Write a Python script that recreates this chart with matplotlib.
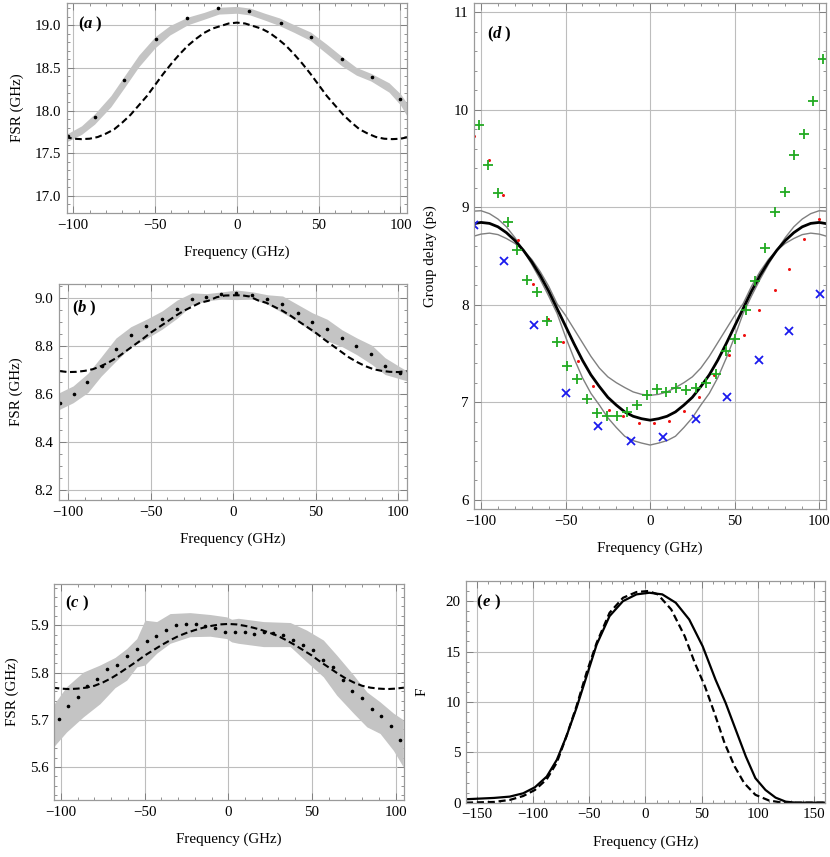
import numpy as np
import matplotlib
matplotlib.use("Agg")
import matplotlib.pyplot as plt
from matplotlib.ticker import MultipleLocator

plt.rcParams["font.family"] = ["Liberation Serif", "DejaVu Serif"]
plt.rcParams["font.size"] = 10.8
plt.rcParams["axes.formatter.useoffset"] = False

# ---------------- (a) ----------------
A_DASH_X = np.arange(-105, 106, 5)
A_DASH_Y = [17.69, 17.67, 17.665, 17.67, 17.69, 17.73, 17.78, 17.86, 17.95, 18.06, 18.17,
            18.30, 18.43, 18.55, 18.66, 18.76, 18.84, 18.91, 18.96, 18.99, 19.02, 19.03,
            19.02, 18.99, 18.96, 18.91, 18.84, 18.76, 18.66, 18.55, 18.43, 18.30, 18.17,
            18.06, 17.95, 17.86, 17.78, 17.73, 17.69, 17.67, 17.665, 17.67, 17.69]
A_BAND_X = [-104, -95, -87, -77, -69, -60, -50, -41, -30, -20, -11, 0, 8, 17, 26, 35,
            45, 55, 64, 73, 82, 93, 100, 104]
A_BAND_MID = [17.68, 17.77, 17.90, 18.11, 18.33, 18.58, 18.80, 18.94, 19.05, 19.11, 19.17,
              19.18, 19.16, 19.10, 19.04, 18.96, 18.87, 18.72, 18.58, 18.46, 18.39, 18.27,
              18.13, 18.01]
A_BAND_HALF = [0.045, 0.05, 0.06, 0.065, 0.068, 0.068, 0.065, 0.055, 0.045, 0.04, 0.04,
               0.04, 0.04, 0.04, 0.045, 0.045, 0.05, 0.055, 0.055, 0.045, 0.045, 0.055,
               0.065, 0.075]
A_DOT_X = [-103.5, -86.8, -68.7, -49.6, -30.5, -11.4, 7.7, 26.8, 45.3, 64.0, 82.3, 99.6]
A_DOT_Y = [17.70, 17.925, 18.36, 18.844, 19.08, 19.196, 19.169, 19.03, 18.867, 18.605,
           18.398, 18.14]

# ---------------- (b) ----------------
B_DASH_X = np.arange(-105, 106, 5)
B_DASH_Y = [8.697, 8.693, 8.694, 8.698, 8.705, 8.718, 8.735, 8.755, 8.78, 8.805, 8.83,
            8.857, 8.88, 8.903, 8.927, 8.948, 8.965, 8.982, 8.99, 9.005, 9.012, 9.013,
            9.013, 9.008, 8.992, 8.982, 8.965, 8.948, 8.927, 8.903, 8.88, 8.857, 8.83,
            8.805, 8.78, 8.755, 8.735, 8.718, 8.705, 8.698, 8.694, 8.693, 8.697]
B_BAND_X = [-106, -97, -88, -80, -71, -62, -52, -43, -34, -25, -16, -7, 2, 12, 21, 30,
            39, 48, 57, 66, 75, 84, 92, 101, 106]
B_BAND_MID = [8.57, 8.60, 8.648, 8.716, 8.787, 8.84, 8.875, 8.91, 8.955, 8.998, 9.005,
              9.012, 9.015, 9.012, 8.995, 8.975, 8.94, 8.90, 8.868, 8.834, 8.80, 8.765,
              8.718, 8.69, 8.675]
B_BAND_HALF = [0.035, 0.035, 0.04, 0.04, 0.048, 0.042, 0.04, 0.038, 0.038, 0.025, 0.015,
               0.015, 0.02, 0.015, 0.02, 0.035, 0.035, 0.04, 0.045, 0.035, 0.035, 0.04,
               0.035, 0.025, 0.02]
B_DOT_X = [-105, -96.7, -88.3, -79.7, -70.7, -61.6, -52.5, -43.4, -34.3, -25.2, -16.2,
           -7.1, 2.0, 11.7, 20.8, 29.9, 39.0, 47.5, 56.6, 65.7, 74.7, 83.8, 92.3, 101.0]
B_DOT_Y = [8.566, 8.60, 8.653, 8.72, 8.789, 8.847, 8.885, 8.915, 8.957, 8.997, 9.007,
           9.018, 9.021, 9.014, 8.998, 8.976, 8.94, 8.903, 8.872, 8.834, 8.802, 8.768,
           8.718, 8.69]

# ---------------- (c) ----------------
C_DASH_X = np.arange(-105, 106, 5)
C_DASH_Y = [5.768, 5.766, 5.765, 5.766, 5.768, 5.772, 5.779, 5.788, 5.799, 5.811, 5.823,
            5.836, 5.847, 5.858, 5.868, 5.877, 5.884, 5.89, 5.895, 5.899, 5.902, 5.903,
            5.902, 5.899, 5.895, 5.89, 5.884, 5.877, 5.868, 5.858, 5.847, 5.836, 5.823,
            5.811, 5.799, 5.788, 5.779, 5.772, 5.768, 5.766, 5.765, 5.766, 5.768]
C_BAND_X = [-104.6, -96.7, -86.7, -76.7, -67.7, -60.7, -54.7, -49.8, -42.8, -34.8, -22.9,
            -10.9, -1, 2, 6, 21, 37, 46.8, 56.8, 64.8, 74.8, 82.8, 90.7, 98.7, 104.6]
C_BAND_UP = [5.731, 5.77, 5.801, 5.816, 5.832, 5.851, 5.872, 5.911, 5.908, 5.925, 5.927,
             5.923, 5.918, 5.913, 5.915, 5.908, 5.906, 5.89, 5.869, 5.837, 5.795, 5.759,
             5.738, 5.714, 5.70]
C_BAND_LO = [5.642, 5.674, 5.706, 5.734, 5.768, 5.784, 5.812, 5.816, 5.841, 5.862, 5.876,
             5.877, 5.872, 5.865, 5.862, 5.855, 5.855, 5.823, 5.791, 5.752, 5.714, 5.685,
             5.671, 5.635, 5.60]
C_DOT_X = [-101, -95.6, -90, -84.2, -78.3, -72.7, -66.7, -60.7, -54.7, -48.8, -43.2,
           -37.2, -31.3, -25.3, -19.5, -13.8, -8, -2, 4, 10, 15.5, 21.5, 27, 32.9, 38.9,
           44.8, 50.8, 56.8, 62.8, 68.4, 74.2, 79.7, 85.7, 91.1, 97.1, 102.6]
C_DOT_Y = [5.701, 5.729, 5.748, 5.772, 5.787, 5.807, 5.816, 5.835, 5.849, 5.867, 5.877,
           5.89, 5.90, 5.903, 5.903, 5.899, 5.894, 5.886, 5.885, 5.885, 5.882, 5.886,
           5.883, 5.879, 5.87, 5.858, 5.847, 5.826, 5.812, 5.785, 5.76, 5.747, 5.722,
           5.707, 5.686, 5.658]

# ---------------- (d) ----------------
D_PLUS_X = [-101.2, -95.6, -90.1, -84.2, -78.5, -72.7, -67.1, -61.1, -55.2, -49.3, -43.4,
            -37.5, -31.5, -25.6, -19.7, -13.8, -7.9, -2.0, 4.0, 9.5, 15.4, 21.3, 27.2,
            33.1, 39.1, 44.6, 50.3, 56.6, 62.1, 68.0, 73.8, 79.5, 85.2, 90.9, 96.4, 102.2]
D_PLUS_Y = [9.848, 9.438, 9.148, 8.846, 8.559, 8.255, 8.132, 7.831, 7.619, 7.376, 7.233,
            7.035, 6.891, 6.856, 6.856, 6.897, 6.969, 7.069, 7.13, 7.107, 7.148, 7.123,
            7.148, 7.199, 7.294, 7.523, 7.65, 7.95, 8.245, 8.584, 8.953, 9.154, 9.541,
            9.756, 10.094, 10.525]
D_DOT_X = [-103.9, -95.2, -86.8, -78.3, -69.0, -60.4, -51.3, -42.4, -33.5, -24.6, -15.8,
           -6.7, 2.4, 11.4, 20.1, 29.2, 38.0, 46.9, 55.8, 64.7, 73.6, 82.2, 90.9, 99.8]
D_DOT_Y = [9.735, 9.482, 9.13, 8.669, 8.218, 7.858, 7.622, 7.42, 7.164, 6.918, 6.853,
           6.782, 6.789, 6.809, 6.905, 7.056, 7.274, 7.489, 7.694, 7.944, 8.152, 8.368,
           8.679, 8.884]
D_CROSS_X = [-103.9, -86.4, -68.4, -49.7, -30.6, -11.2, 7.9, 27.0, 45.7, 64.3, 82.4, 100.6]
D_CROSS_Y = [8.82, 8.453, 7.79, 7.092, 6.754, 6.604, 6.645, 6.83, 7.056, 7.435, 7.735, 8.115]
D_FIT_X = np.arange(-105, 106, 5)
D_FIT = [8.83, 8.845, 8.835, 8.80, 8.74, 8.66, 8.56, 8.44, 8.30, 8.14, 7.96, 7.78, 7.60,
         7.43, 7.28, 7.16, 7.05, 6.97, 6.90, 6.855, 6.83, 6.815, 6.83, 6.855, 6.90, 6.97,
         7.05, 7.16, 7.28, 7.43, 7.60, 7.78, 7.96, 8.14, 8.30, 8.44, 8.56, 8.66, 8.74,
         8.80, 8.835, 8.845, 8.83]
D_FIT_HI = [8.70, 8.725, 8.735, 8.72, 8.68, 8.63, 8.56, 8.465, 8.34, 8.19, 8.01, 7.89,
            7.75, 7.61, 7.47, 7.35, 7.26, 7.20, 7.15, 7.105, 7.08, 7.07, 7.08, 7.105, 7.15,
            7.20, 7.26, 7.35, 7.47, 7.61, 7.75, 7.89, 8.01, 8.19, 8.34, 8.465, 8.56, 8.63,
            8.68, 8.72, 8.735, 8.725, 8.70]
D_FIT_LO = [8.96, 8.965, 8.935, 8.88, 8.80, 8.69, 8.56, 8.415, 8.26, 8.09, 7.91, 7.67,
            7.45, 7.25, 7.09, 6.97, 6.84, 6.74, 6.65, 6.605, 6.58, 6.56, 6.58, 6.605, 6.65,
            6.74, 6.84, 6.97, 7.09, 7.25, 7.45, 7.67, 7.91, 8.09, 8.26, 8.415, 8.56, 8.69,
            8.80, 8.88, 8.935, 8.965, 8.96]

# ---------------- (e) ----------------
E_SOLID_X = [-160, -135, -121, -109, -98.5, -88, -79, -70.5, -61.5, -52.5, -43.5, -32,
             -20, -8, 3.5, 15, 27, 39, 51, 62.5, 71.5, 80.5, 89.5, 98, 107, 116, 125,
             134, 160]
E_SOLID_Y = [0.34, 0.47, 0.6, 0.93, 1.53, 2.59, 4.25, 6.57, 9.39, 12.54, 15.69, 18.51,
             20.0, 20.67, 20.83, 20.67, 19.84, 18.18, 15.52, 12.2, 9.89, 7.23, 4.58,
             2.43, 1.26, 0.5, 0.1, 0.0, 0.0]
E_DASH_X = [-160, -135, -121, -109, -98.5, -88, -79, -70.5, -61.5, -52.5, -43.5, -32,
            -20, -8, 2.5, 11, 23, 35, 44, 53, 61.5, 70.5, 79.5, 88, 98, 110, 122, 160]
E_DASH_Y = [0.0, 0.07, 0.27, 0.66, 1.26, 2.32, 3.98, 6.57, 9.56, 12.9, 15.86, 18.84,
            20.33, 20.9, 21.0, 20.67, 19.17, 16.52, 13.87, 11.55, 8.9, 5.92, 3.6, 1.94,
            0.78, 0.22, 0.0, 0.0]

BAND = "#c4c4c4"
DASH = (0, (3.2, 1.7))


def style_axis(ax, xlim, ylim, xmaj, xmin, ymaj, ymin):
    ax.set_xlim(*xlim)
    ax.set_ylim(*ylim)
    ax.xaxis.set_major_locator(MultipleLocator(xmaj))
    ax.xaxis.set_minor_locator(MultipleLocator(xmin))
    ax.yaxis.set_major_locator(MultipleLocator(ymaj))
    ax.yaxis.set_minor_locator(MultipleLocator(ymin))
    ax.grid(True, which="major", color="#bdbdbd", lw=0.8)
    ax.set_axisbelow(True)
    ax.tick_params(which="both", direction="in", top=True, right=True, color="#808080")
    ax.tick_params(which="major", length=5, width=0.7, pad=4)
    ax.tick_params(which="minor", length=2.5, width=0.6)
    for s in ax.spines.values():
        s.set_color("#9a9a9a")
        s.set_linewidth(0.9)
    ax.set_xlabel("Frequency (GHz)", labelpad=10)


# "(" and ")" upright bold, the letter bold italic
def panel_label(ax, letter, x, y):
    kw = dict(xycoords="axes fraction", textcoords="offset points",
              ha="left", va="center", fontsize=12, fontweight="bold")
    ax.annotate("(", (x, y), xytext=(0, 0), **kw)
    ax.annotate(letter, (x, y), xytext=(4.2, 0), style="italic", **kw)
    ax.annotate(")", (x, y), xytext=(12.5, 0), **kw)


fig = plt.figure(figsize=(8.3, 8.57), dpi=100)

# (a)
ax = fig.add_axes([0.0804, 0.7515, 0.410, 0.245])
lo = np.array(A_BAND_MID) - np.array(A_BAND_HALF)
hi = np.array(A_BAND_MID) + np.array(A_BAND_HALF)
ax.fill_between(A_BAND_X, lo, hi, color=BAND, lw=0)
ax.plot(A_DASH_X, A_DASH_Y, color="black", lw=1.5, linestyle=DASH)
ax.plot(A_DOT_X, A_DOT_Y, "o", color="black", ms=1.6)
style_axis(ax, (-104, 104), (16.8, 19.26), 50, 10, 0.5, 0.1)
ax.yaxis.set_major_formatter(lambda v, p: f"{v:.1f}")
ax.set_ylabel("FSR (GHz)", labelpad=8)
panel_label(ax, "a", 0.033, 0.90)

# (b)
ax = fig.add_axes([0.0711, 0.4166, 0.4196, 0.252])
lo = np.array(B_BAND_MID) - np.array(B_BAND_HALF)
hi = np.array(B_BAND_MID) + np.array(B_BAND_HALF)
ax.fill_between(B_BAND_X, lo, hi, color=BAND, lw=0)
ax.plot(B_DASH_X, B_DASH_Y, color="black", lw=1.5, linestyle=DASH)
ax.plot(B_DOT_X, B_DOT_Y, "o", color="black", ms=1.6)
style_axis(ax, (-105.5, 105.5), (8.16, 9.06), 50, 10, 0.2, 0.05)
ax.yaxis.set_major_formatter(lambda v, p: f"{v:.1f}")
ax.set_ylabel("FSR (GHz)", labelpad=8)
panel_label(ax, "b", 0.037, 0.889)

# (c)
ax = fig.add_axes([0.0654, 0.0665, 0.4213, 0.2517])
ax.fill_between(C_BAND_X, C_BAND_LO, C_BAND_UP, color=BAND, lw=0)
ax.plot(C_DASH_X, C_DASH_Y, color="black", lw=1.5, linestyle=DASH)
ax.plot(C_DOT_X, C_DOT_Y, "o", color="black", ms=1.6)
style_axis(ax, (-104, 105), (5.53, 5.987), 50, 10, 0.1, 0.02)
ax.yaxis.set_major_formatter(lambda v, p: f"{v:.1f}")
ax.set_ylabel("FSR (GHz)", labelpad=8)
panel_label(ax, "c", 0.03, 0.913)

# (d)
ax = fig.add_axes([0.5714, 0.4057, 0.4237, 0.5911])
ax.plot(D_FIT_X, D_FIT_HI, color="#808080", lw=1.0)
ax.plot(D_FIT_X, D_FIT_LO, color="#808080", lw=1.0)
ax.plot(D_FIT_X, D_FIT, color="black", lw=2.0)
ax.plot(D_DOT_X, D_DOT_Y, "o", color="#ee1111", ms=2.2, mew=0)
ax.plot(D_PLUS_X, D_PLUS_Y, "+", color="#22aa22", ms=7, mew=1.3)
ax.plot(D_CROSS_X, D_CROSS_Y, "x", color="#1a1aee", ms=5.5, mew=1.3)
style_axis(ax, (-104, 104), (5.9, 11.1), 50, 10, 1, 0.2)
ax.set_ylabel("Group delay (ps)", labelpad=12)
panel_label(ax, "d", 0.036, 0.938)

# (e)
ax = fig.add_axes([0.5614, 0.0634, 0.4325, 0.2587])
ax.plot(E_SOLID_X, E_SOLID_Y, color="black", lw=1.6)
ax.plot(E_DASH_X, E_DASH_Y, color="black", lw=1.6, linestyle=DASH)
style_axis(ax, (-160, 160), (0, 22), 50, 10, 5, 1)
ax.set_ylabel("F", labelpad=12)
panel_label(ax, "e", 0.03, 0.905)

plt.savefig("out.png", dpi=100)
plt.close()
